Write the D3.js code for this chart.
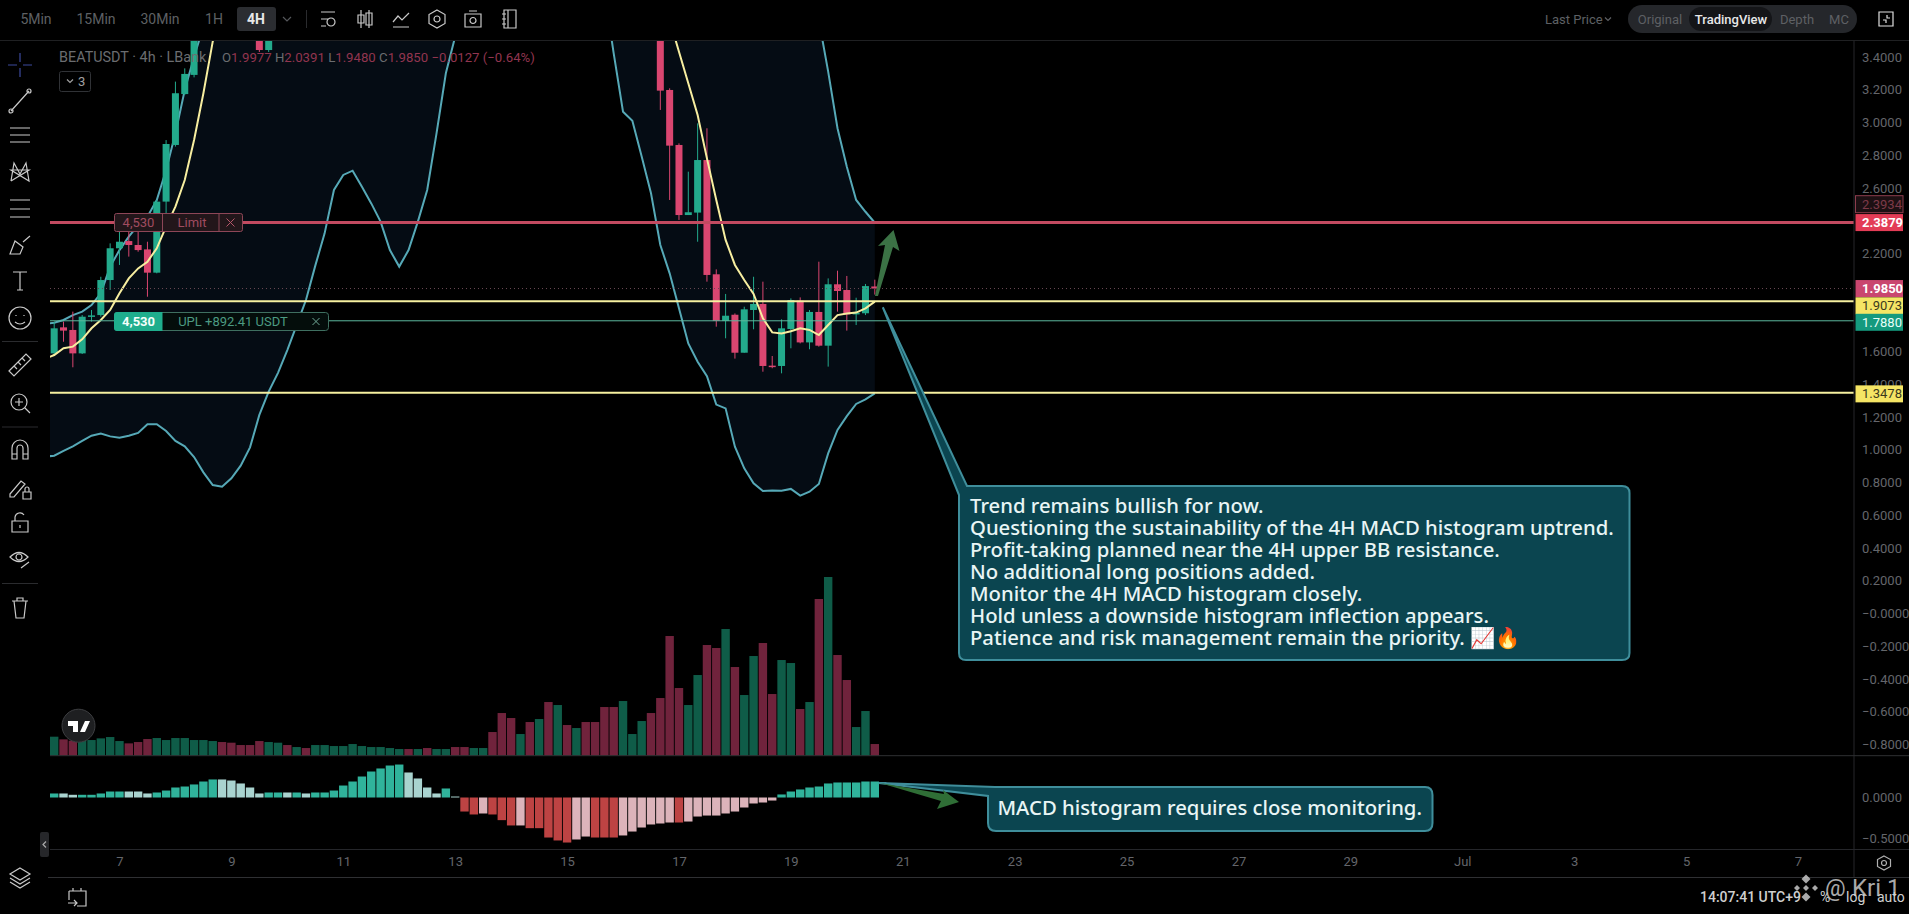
<!DOCTYPE html>
<html>
<head>
<meta charset="utf-8">
<title>BEATUSDT 4h</title>
<script src="https://cdn.jsdelivr.net/npm/d3@7"></script>
<style>
    html, body { margin: 0; padding: 0; background: #000; overflow: hidden; }
    svg { display: block; }
    text { font-family: Roboto, "Noto Sans", sans-serif; }
    .axis text { fill: #64666b; font-size: 13px; }
    .axis path, .axis line { display: none; }
    .note { font-family: "Noto Sans", "Open Sans", sans-serif; font-weight: 500; fill: #e9f5f5; }
</style>
</head>
<body>
<svg id="chart" width="1909" height="914"></svg>
<script>
// === DATA ======================================================

// 2.4, 2.0 and 1.8 sit fully behind the price tags, so they are left out
const priceTicks = [3.4, 3.2, 3.0, 2.8, 2.6, 2.2, 1.6, 1.4, 1.2, 1.0, 0.8, 0.6, 0.4, 0.2, 0, -0.2, -0.4, -0.6, -0.8];
const macdTicks = [0, -0.5];
const dayLabels = ["7", "9", "11", "13", "15", "17", "19", "21", "23", "25", "27", "29", "Jul", "3", "5", "7"];
const dayBars = [7, 19, 31, 43, 55, 67, 79, 91, 103, 115, 127, 139, 151, 163, 175, 187];

// candles that are inside the visible price range, the rest is off the top
const candleBars = [0, 1, 2, 3, 4, 5, 6, 7, 8, 9, 10, 11, 12, 13, 14, 15, 22, 23, 65, 66, 67, 68, 69, 70, 71, 72, 73, 74, 75, 76, 77, 78, 79, 80, 81, 82, 83, 84, 85, 86, 87, 88];
const opens = [1.589, 1.748, 1.732, 1.589, 1.815, 1.823, 2.037, 2.231, 2.275, 2.251, 2.224, 2.082, 2.516, 2.862, 3.173, 3.290, 3.95, 3.442, 3.95, 3.198, 2.862, 2.434, 2.449, 2.770, 2.072, 1.787, 1.825, 1.593, 1.854, 1.891, 1.514, 1.512, 1.738, 1.911, 1.656, 1.842, 1.636, 2.011, 1.976, 1.827, 1.834, 1.9977];
const closes = [1.742, 1.728, 1.589, 1.813, 1.821, 2.037, 2.231, 2.271, 2.251, 2.220, 2.082, 2.516, 2.868, 3.178, 3.296, 3.62, 3.442, 3.9, 3.194, 2.858, 2.434, 2.451, 2.770, 2.068, 1.787, 1.819, 1.593, 1.858, 1.891, 1.512, 1.510, 1.742, 1.915, 1.656, 1.842, 1.636, 2.011, 1.970, 1.827, 1.838, 2.000, 1.985];
const highs = [1.783, 1.783, 1.844, 1.823, 1.854, 2.057, 2.261, 2.333, 2.333, 2.333, 2.271, 2.526, 2.892, 3.249, 3.330, 3.70, 4.0, 4.0, 4.0, 3.208, 2.872, 2.699, 2.994, 2.964, 2.102, 1.952, 1.833, 1.874, 2.057, 2.027, 1.573, 1.797, 1.925, 1.931, 1.854, 2.149, 2.047, 2.094, 2.062, 1.929, 2.013, 2.0391];
const lows = [1.579, 1.660, 1.504, 1.585, 1.783, 1.813, 1.976, 2.129, 2.180, 2.210, 1.935, 2.078, 2.444, 2.852, 3.167, 3.275, 3.43, 3.43, 3.076, 2.526, 2.404, 2.434, 2.271, 2.027, 1.752, 1.681, 1.557, 1.593, 1.736, 1.477, 1.498, 1.467, 1.620, 1.650, 1.614, 1.630, 1.508, 1.844, 1.728, 1.762, 1.823, 1.948];

// Bollinger bands, first entry is the bar before the left edge, null = above the pane
const bbUpper = [1.768, 1.776, 1.793, 1.823, 1.844, 1.884, 1.956, 2.119, 2.220, 2.302, 2.373, 2.424, 2.526, 2.709, 2.933, 3.198, 3.401, 3.585, 3.85,
    ...Array(64).fill(null),
    3.625, 3.310, 2.964, 2.729, 2.526, 2.454, 2.387];
const bbMiddle = [1.555, 1.579, 1.620, 1.630, 1.675, 1.742, 1.793, 1.854, 1.956, 2.047, 2.108, 2.149, 2.231, 2.363, 2.485, 2.648, 2.892, 3.178, 3.493, 3.75,
    ...Array(47).fill(null),
    3.625, 3.432, 3.239, 3.045, 2.780, 2.526, 2.282, 2.129, 2.037, 1.952, 1.803, 1.717, 1.711, 1.724, 1.742, 1.732, 1.701, 1.762, 1.823, 1.833, 1.838, 1.864, 1.905];
const bbLower = [0.958, 0.964, 0.993, 1.021, 1.054, 1.086, 1.099, 1.082, 1.074, 1.086, 1.103,
    1.156, 1.156, 1.115, 1.054, 1.021, 0.956, 0.862, 0.785, 0.775, 0.826,
    0.903, 1.015, 1.213, 1.355, 1.470, 1.609, 1.762, 1.915, 2.125, 2.322,
    2.587, 2.679, 2.705, 2.607, 2.505, 2.394, 2.220, 2.119, 2.220, 2.394,
    2.587, 2.933, 3.300, 3.524, 3.78,
    ...Array(14).fill(null),
    3.80, 3.422, 3.065, 3.010, 2.791, 2.567, 2.251, 2.078, 1.864, 1.650, 1.538,
    1.450, 1.276, 1.253, 1.019, 0.887, 0.795, 0.748, 0.752, 0.750, 0.761,
    0.720, 0.744, 0.791, 0.978, 1.121, 1.206, 1.280, 1.308, 1.345];

const volume = [57, 49, 45, 47, 47, 52, 56, 44, 37, 41,
    50, 53, 47, 53, 53, 47, 47, 44, 41, 39,
    32, 32, 44, 41, 39, 32, 26, 23, 32, 32,
    29, 29, 35, 29, 26, 26, 23, 20, 20, 20,
    23, 20, 20, 26, 26, 23, 23, 71, 128, 113,
    65, 101, 110, 161, 152, 92, 83, 101, 101, 146,
    146, 164, 65, 104, 128, 173, 359, 203, 152, 242,
    332, 323, 380, 266, 182, 299, 338, 185, 287, 278,
    140, 161, 470, 536, 302, 227, 86, 134, 35];
const volumeSide = ("g r r g g g g g r r " + "r g g g g g g g r r " + "r r r g g r g r g g " + "g g g g g g g g r g " + "r g g r r g g r r r " +
    "g r g r g r g r r r " + "r g g g r r r r g g " + "r r g r g g r r g g " + "r g r g r r g g r").split(" ");

const macdHist = [0.049, 0.049, 0.033, 0.033, 0.033, 0.049, 0.073, 0.073, 0.073, 0.073,
    0.049, 0.061, 0.085, 0.122, 0.134, 0.159, 0.195, 0.220, 0.220, 0.207,
    0.171, 0.122, 0.049, 0.061, 0.061, 0.061, 0.061, 0.049, 0.061, 0.061,
    0.085, 0.146, 0.195, 0.256, 0.317, 0.354, 0.390, 0.402, 0.305, 0.232,
    0.122, 0.049, 0.110, 0.012, -0.171, -0.207, -0.195, -0.207, -0.276, -0.341,
    -0.341, -0.374, -0.374, -0.488, -0.524, -0.549, -0.512, -0.476, -0.488, -0.488,
    -0.488, -0.463, -0.415, -0.366, -0.329, -0.317, -0.305, -0.305, -0.293, -0.232,
    -0.220, -0.220, -0.195, -0.171, -0.122, -0.073, -0.061, -0.037, 0.037, 0.073,
    0.098, 0.122, 0.134, 0.171, 0.183, 0.183, 0.183, 0.195, 0.195];
const macdShade = ("g l l g g g g g l l " + "l g g g g g g g l l " + "l l l g g l g l g g " + "g g g g g g g g l l " + "l l g l r r p r r r " +
    "p r r r r r p p r r " + "r p p p p p p r p p " + "p p p p p p p p g g " + "g g g g g g g g g").split(" ");

const priceLines = [
    { value: 2.3879, color: "#c24a60", width: 3 },
    { value: 1.9073, color: "#f6f0a0", width: 2 },
    { value: 1.788, color: "#5cb89e", width: 1 },
    { value: 1.3478, color: "#f6f0a0", width: 2 }
];
const priceTags = [
    { value: 2.3934, dy: -17.5, text: "2.3934", fill: "#1d1013", stroke: "#8d3d4d", ink: "#7d3a48" },
    { value: 2.3879, dy: 0, text: "2.3879", fill: "#e33c56", stroke: "none", ink: "#fff" },
    { value: 1.985, dy: 0, text: "1.9850", fill: "#c9466f", stroke: "none", ink: "#fff" },
    { value: 1.9073, dy: 4.5, text: "1.9073", fill: "#f5e565", stroke: "none", ink: "#3b3a1c" },
    { value: 1.788, dy: 1.5, text: "1.7880", fill: "#159a7e", stroke: "none", ink: "#e8fff8" },
    { value: 1.3478, dy: 1, text: "1.3478", fill: "#f5e565", stroke: "none", ink: "#3b3a1c" }
];
const noteLines = [
    "Trend remains bullish for now.",
    "Questioning the sustainability of the 4H MACD histogram uptrend.",
    "Profit-taking planned near the 4H upper BB resistance.",
    "No additional long positions added.",
    "Monitor the 4H MACD histogram closely.",
    "Hold unless a downside histogram inflection appears.",
    "Patience and risk management remain the priority. 📈🔥"
];
const intervals = [["5Min", 36], ["15Min", 96], ["30Min", 160], ["1H", 214], ["4H", 256]];

// === SCALES ====================================================

const svg = d3.select("#chart");
const plotLeft = 50, plotRight = 1854, plotTop = 40.5, volumeBase = 755.7;

const x = d3.scaleLinear().domain([0, 88]).range([54.2, 874.8]);
const y = d3.scaleLinear().domain([0, 3.4]).range([613.5, 56.9]);
const yVolume = d3.scaleLinear().domain([0, 536]).range([volumeBase, 577]);
const yMacd = d3.scaleLinear().domain([0, -0.5]).range([797.5, 838.5]);

const GREEN = "#23aa8c", RED = "#da4670";
const VOL_COLORS = { g: "#0f5c48", r: "#70233c" };
const MACD_COLORS = { g: "#30b39b", l: "#a9d3cf", r: "#bd4343", p: "#dcb3ba" };

svg.append("rect").attr("width", 1909).attr("height", 914).attr("fill", "#000");
svg.append("clipPath").attr("id", "price-clip").append("rect")
    .attr("x", plotLeft).attr("y", plotTop)
    .attr("width", plotRight - plotLeft).attr("height", volumeBase - plotTop);
const pane = svg.append("g").attr("clip-path", "url(#price-clip)");

// === PRICE PANE ================================================

// band index is one behind the bar number because of the extra first entry
const bandRows = bbLower.map((low, i) => ({ bar: i - 1, low: low, up: bbUpper[i] }));
pane.append("path")
    .attr("fill", "#050c14")
    .attr("d", d3.area()
        .defined(d => d.low !== null)
        .x(d => x(d.bar))
        .y0(d => y(d.low))
        .y1(d => d.up !== null ? y(d.up) : plotTop)(bandRows));

pane.append("g").selectAll("rect")
    .data(volume)
    .enter()
    .append("rect")
    .attr("x", (d, i) => x(i) - 4.2)
    .attr("width", 8.4)
    .attr("y", d => yVolume(d))
    .attr("height", d => yVolume(0) - yVolume(d))
    .attr("fill", (d, i) => VOL_COLORS[volumeSide[i]]);

const bandLine = d3.line().defined(d => d !== null).x((d, i) => x(i - 1)).y(d => y(d));
[bbUpper, bbLower].forEach(series => {
    pane.append("path")
        .attr("d", bandLine(series))
        .attr("fill", "none")
        .attr("stroke", "#56a9b7")
        .attr("stroke-width", 2);
});

const candles = candleBars.map((bar, i) => ({ bar: bar, o: opens[i], h: highs[i], l: lows[i], c: closes[i] }));
const candle = pane.append("g").selectAll("g").data(candles).enter().append("g");
candle.append("line")
    .attr("x1", d => x(d.bar)).attr("x2", d => x(d.bar))
    .attr("y1", d => y(d.h)).attr("y2", d => y(d.l))
    .attr("stroke", d => d.c >= d.o ? GREEN : RED)
    .attr("stroke-width", 1);
candle.append("rect")
    .attr("x", d => x(d.bar) - 3.5)
    .attr("width", 7)
    .attr("y", d => y(Math.max(d.o, d.c)))
    .attr("height", d => Math.max(1.5, Math.abs(y(d.o) - y(d.c))))
    .attr("fill", d => d.c >= d.o ? GREEN : RED);

pane.append("path")
    .attr("d", bandLine(bbMiddle))
    .attr("fill", "none")
    .attr("stroke", "#f7eea0")
    .attr("stroke-width", 2);

// last price dotted line and the drawn levels
pane.append("line")
    .attr("x1", plotLeft).attr("x2", plotRight)
    .attr("y1", y(1.985)).attr("y2", y(1.985))
    .attr("stroke", "#6a4a55").attr("stroke-dasharray", "1 3");
pane.selectAll(".level")
    .data(priceLines)
    .enter()
    .append("line")
    .attr("class", "level")
    .attr("x1", plotLeft).attr("x2", plotRight)
    .attr("y1", d => y(d.value)).attr("y2", d => y(d.value))
    .attr("stroke", d => d.color)
    .attr("stroke-width", d => d.width);

// === MACD PANE =================================================

svg.append("g").selectAll("rect")
    .data(macdHist)
    .enter()
    .append("rect")
    .attr("x", (d, i) => x(i) - 4.2)
    .attr("width", 8.4)
    .attr("y", d => Math.min(yMacd(0), yMacd(d)))
    .attr("height", d => Math.abs(yMacd(d) - yMacd(0)))
    .attr("fill", (d, i) => MACD_COLORS[macdShade[i]]);

// === AXES ======================================================

svg.append("g")
    .attr("class", "axis")
    .attr("transform", `translate(${plotRight},0)`)
    .call(d3.axisRight(y).tickValues(priceTicks).tickSize(0).tickPadding(8)
        .tickFormat(d => d === 0 ? "−0.0000" : d3.format(".4f")(d).replace("-", "−")));
svg.append("g")
    .attr("class", "axis")
    .attr("transform", `translate(${plotRight},0)`)
    .call(d3.axisRight(yMacd).tickValues(macdTicks).tickSize(0).tickPadding(8)
        .tickFormat(d => d3.format(".4f")(d).replace("-", "−")));
svg.append("g")
    .attr("class", "axis")
    .attr("transform", "translate(0,849)")
    .call(d3.axisBottom(x).tickValues(dayBars).tickSize(0).tickPadding(8)
        .tickFormat((d, i) => dayLabels[i]));

const rule = (x1, y1, x2, y2, color) => svg.append("line")
    .attr("x1", x1).attr("y1", y1).attr("x2", x2).attr("y2", y2).attr("stroke", color);
rule(0, 40.5, 1909, 40.5, "#1f2022");
rule(plotRight, 40.5, plotRight, 877, "#26272a");
rule(plotLeft, volumeBase, 1909, volumeBase, "#2f3033");
rule(plotLeft, 849.5, 1909, 849.5, "#25262a");
rule(48, 877.5, 1909, 877.5, "#2f3033");

// === PRICE TAGS ================================================

const tag = svg.append("g").selectAll("g").data(priceTags).enter().append("g")
    .attr("transform", d => `translate(1855.5,${y(d.value) + d.dy})`);
tag.append("rect")
    .attr("y", -8.5).attr("width", 47.5).attr("height", 17)
    .attr("fill", d => d.fill).attr("stroke", d => d.stroke);
tag.append("text")
    .attr("x", 6.5).attr("y", 4.6)
    .attr("font-size", 13)
    .attr("font-weight", d => d.ink === "#fff" ? 700 : 400)
    .attr("fill", d => d.ink)
    .text(d => d.text);

// === ORDER LABELS ==============================================

function txt(parent, px, py, str, size, color, anchor, weight) {
    return parent.append("text")
        .attr("x", px).attr("y", py)
        .attr("font-size", size).attr("fill", color)
        .attr("text-anchor", anchor || "start")
        .attr("font-weight", weight || 400)
        .text(str);
}

const limitBox = svg.append("g");
limitBox.append("rect").attr("x", 114.5).attr("y", 213.5).attr("width", 128).attr("height", 18).attr("rx", 2)
    .attr("fill", "#22161a").attr("stroke", "#8d4657");
limitBox.append("line").attr("x1", 162.5).attr("x2", 162.5).attr("y1", 214).attr("y2", 231).attr("stroke", "#8d4657");
limitBox.append("line").attr("x1", 219).attr("x2", 219).attr("y1", 214).attr("y2", 231).attr("stroke", "#8d4657");
txt(limitBox, 138.5, 227, "4,530", 13, "#a14c60", "middle");
txt(limitBox, 192, 227, "Limit", 13, "#a14c60", "middle");
limitBox.append("path").attr("d", "M226.5,218.5 l8,8 M234.5,218.5 l-8,8").attr("stroke", "#b5566a").attr("fill", "none");

const uplBox = svg.append("g");
uplBox.append("rect").attr("x", 114.5).attr("y", 312.5).attr("width", 214).attr("height", 18).attr("rx", 3)
    .attr("fill", "#040d0b").attr("stroke", "#3f6f60");
uplBox.append("path").attr("d", "M162.5,312 H117 Q114,312 114,315 V328 Q114,331 117,331 H162.5 Z").attr("fill", "#1fae8d");
txt(uplBox, 138.5, 326, "4,530", 13, "#f3fffb", "middle", 700);
txt(uplBox, 233, 326, "UPL +892.41 USDT", 13, "#4c9a82", "middle");
uplBox.append("path").attr("d", "M312.5,318 l7,7 M319.5,318 l-7,7").attr("stroke", "#6fa896").attr("fill", "none");

// === CALLOUTS ==================================================

const CALLOUT_FILL = "#0b4550", CALLOUT_EDGE = "#3f8e9b";
const tipX = x(88) + 8;

svg.append("path")
    .attr("d", `M${tipX},${y(1.9073) + 6} L967,486 H1622 Q1629.5,486 1629.5,493 V653 Q1629.5,660 1622,660 H966 Q959,660 959,653 V495 Z`)
    .attr("fill", CALLOUT_FILL).attr("stroke", CALLOUT_EDGE).attr("stroke-width", 2);
svg.append("path")
    .attr("d", `M${x(88) + 4},783 L995,787 H1425 Q1432.5,787 1432.5,795 V823 Q1432.5,831 1425,831 H996 Q988,831 988,823 V796 Z`)
    .attr("fill", CALLOUT_FILL).attr("stroke", CALLOUT_EDGE).attr("stroke-width", 2);

svg.append("g").selectAll("text").data(noteLines).enter().append("text")
    .attr("class", "note")
    .attr("x", 970)
    .attr("y", (d, i) => 512.7 + i * 22.05)
    .attr("font-size", 20.3)
    .text(d => d);
svg.append("text").attr("class", "note").attr("x", 997.5).attr("y", 815).attr("font-size", 20.3)
    .text("MACD histogram requires close monitoring.");

// green arrows
svg.append("path")
    .attr("d", "M875,296 L885,245 L878,246 L893.5,230 L899.5,251 L893,247 L878,296 Z")
    .attr("fill", "#3b7245");
svg.append("path")
    .attr("d", "M880,783 L944,794 L943,790 L959,802 L937,809 L941,801 Z")
    .attr("fill", "#2f6e36");

// === TOP BAR ===================================================

intervals.forEach(([label, cx]) => {
    if (label === "4H") {
        svg.append("rect").attr("x", 237).attr("y", 7).attr("width", 39).attr("height", 24).attr("rx", 3).attr("fill", "#2b2d31");
        txt(svg, cx, 24, label, 14, "#e8e8e8", "middle", 700);
    } else {
        txt(svg, cx, 24, label, 14, "#5e6064", "middle");
    }
});

function icon(px, py, d, color) {
    return svg.append("path")
        .attr("transform", `translate(${px},${py})`)
        .attr("d", d)
        .attr("fill", "none")
        .attr("stroke", color || "#c9c9c9")
        .attr("stroke-width", 1.2);
}

icon(287, 19, "M-4,-2 L0,2 L4,-2", "#55575b");
rule(306.5, 10, 306.5, 28, "#2a2b2e");
icon(328, 19, "M-7,-7 H7 M-7,0 H0 M-7,7 H-2 M7,3 a4,4 0 1,1 -8,0 a4,4 0 1,1 8,0");
icon(365, 19, "M-4,-9 V9 M4,-9 V9 M-7,-4 H-1 V4 H-7 Z M1,-6 H7 V6 H1 Z");
icon(401, 19, "M-8,8 H8 M-8,3 L-3,-3 L1,1 L8,-6");
icon(437, 19, "M0,-9 L8,-4.5 V4.5 L0,9 L-8,4.5 V-4.5 Z M3,0 a3,3 0 1,1 -6,0 a3,3 0 1,1 6,0");
icon(473, 19, "M-8,-5 H8 V8 H-8 Z M-4,-8 H4 M3,1.5 a3,3 0 1,1 -6,0 a3,3 0 1,1 6,0");
icon(509, 19, "M-5,-9 H7 V9 H-5 Z M-1,-9 V9 M-7,-5 H-3 M-7,0 H-3 M-7,5 H-3");

txt(svg, 1545, 24, "Last Price", 13, "#5e6064");
icon(1608, 19, "M-3,-1.5 L0,1.5 L3,-1.5", "#5e6064");
svg.append("rect").attr("x", 1628).attr("y", 5).attr("width", 229).attr("height", 28).attr("rx", 14).attr("fill", "#25272b");
svg.append("rect").attr("x", 1689).attr("y", 7).attr("width", 83).attr("height", 24).attr("rx", 12).attr("fill", "#141518");
txt(svg, 1660, 24, "Original", 13, "#5e6064", "middle");
txt(svg, 1731, 24, "TradingView", 13, "#e8e8e8", "middle", 500);
txt(svg, 1797, 24, "Depth", 13, "#5e6064", "middle");
txt(svg, 1839, 24, "MC", 13, "#5e6064", "middle");
icon(1886, 19, "M-7,-7 H7 V7 H-7 Z M-3,1 H0 V4 M1,-4 V-1 H4", "#e0e0e0");

// === LEGEND ====================================================

txt(svg, 59, 62, "BEATUSDT · 4h · LBank", 14.4, "#6b6d70");
const ohlc = svg.append("text").attr("x", 222).attr("y", 62).attr("font-size", 13.2).attr("fill", "#92354f");
[["O", "1.9977"], ["H", "2.0391"], ["L", "1.9480"], ["C", "1.9850"]].forEach(([k, v]) => {
    ohlc.append("tspan").attr("fill", "#6b6d70").text(k);
    ohlc.append("tspan").text(v + " ");
});
ohlc.append("tspan").text("−0.0127 (−0.64%)");

svg.append("rect").attr("x", 59.5).attr("y", 71.5).attr("width", 31).attr("height", 20).attr("rx", 2)
    .attr("fill", "none").attr("stroke", "#303236");
icon(70, 81, "M-3,-1.5 L0,1.5 L3,-1.5", "#a0a0a0");
txt(svg, 78, 86, "3", 13, "#a0a0a0");

// === LEFT TOOLBAR ==============================================

icon(20, 65, "M-12,0 H-3 M3,0 H12 M0,-12 V-3 M0,3 V12", "#3d4a9e");
icon(20, 101, "M-9,10 L9,-10 M-9,10 m-2,0 a2,2 0 1,0 4,0 a2,2 0 1,0 -4,0 M9,-10 m-2,0 a2,2 0 1,0 4,0 a2,2 0 1,0 -4,0");
icon(20, 135, "M-10,-7 H10 M-10,0 H10 M-10,7 H10");
icon(20, 172, "M-9,9 L-6,-9 L0,2 L6,-9 L9,9 L-9,-2 H9 L-9,9");
icon(20, 209, "M-10,-9 H10 M-10,0 H10 M-10,8 H10");
icon(20, 245, "M-10,9 L-5,-4 L3,2 L0,9 Z M3,-3 L10,-9");
icon(20, 281, "M-7,-9 H7 M0,-9 V9 M-3,9 H3");
icon(20, 318, "M11,0 a11,11 0 1,1 -22,0 a11,11 0 1,1 22,0 M-4,-3 V-2 M4,-3 V-2 M-5,4 Q0,8 5,4");
rule(2, 341.5, 38, 341.5, "#2a2b2e");
icon(20, 365, "M-11,6 L6,-11 L11,-6 L-6,11 Z M-6,1 L-3,4 M-2,-3 L1,0 M2,-7 L5,-4");
icon(19, 402, "M8,0 a8,8 0 1,1 -16,0 a8,8 0 1,1 16,0 M6,6 L11,11 M-4,0 H4 M0,-4 V4");
rule(2, 427, 38, 427, "#2a2b2e");
icon(20, 450, "M-8,9 V-2 a8,8 0 0,1 16,0 V9 H3 V-2 a3,3 0 0,0 -6,0 V9 Z M-8,4 H-3 M3,4 H8");
icon(19, 487, "M-9,7 L2,-6 L6,-3 L-5,10 L-9,10 Z M4,5 H12 V12 H4 Z M6,5 V2 a2,2 0 0,1 4,0 V5");
icon(20, 522, "M-8,-1 H8 V10 H-8 Z M-5,-1 V-5 a5,5 0 0,1 9,-2 M0,3 V6");
icon(19, 557, "M-9,0 Q0,-9 9,0 Q0,9 -9,0 Z M3,0 a3,3 0 1,1 -6,0 a3,3 0 1,1 6,0 M2,11 L10,5");
rule(2, 583.5, 38, 583.5, "#2a2b2e");
icon(20, 608, "M-8,-7 H8 M-6,-7 L-4,10 H4 L6,-7 M-3,-7 V-10 H3 V-7");
icon(20, 878, "M0,-10 L10,-4 L0,2 L-10,-4 Z M-10,0 L0,6 L10,0 M-10,4 L0,10 L10,4");
icon(77, 897, "M-8,-6 H9 V9 H0 M-8,-6 V3 M-4,-9 V-6 M4,-9 V-6 M-9,6 H0 M-3,3 L0,6 L-3,9");

svg.append("rect").attr("x", 40).attr("y", 832).attr("width", 9).attr("height", 25).attr("rx", 2).attr("fill", "#26272a");
icon(44.5, 844.5, "M1.5,-3 L-1.5,0 L1.5,3", "#aaa");

// TradingView badge
svg.append("circle").attr("cx", 78.5).attr("cy", 725.7).attr("r", 16.5).attr("fill", "#1e1f21").attr("stroke", "#3d3e41");
svg.append("path")
    .attr("d", "M68,721 H78 V732 H73 V726 H68 Z M85,721 H90 L85,732 H80 Z")
    .attr("fill", "#fff");

// === BOTTOM RIGHT ==============================================

icon(1884, 863, "M0,-7 L6.5,-3.5 V3.5 L0,7 L-6.5,3.5 V-3.5 Z M2.5,0 a2.5,2.5 0 1,1 -5,0 a2.5,2.5 0 1,1 5,0", "#b0b0b0");
txt(svg, 1700, 902, "14:07:41 UTC+9", 14, "#cfcfcf", "start", 500);
txt(svg, 1820, 902, "%", 14, "#cfcfcf");
txt(svg, 1846, 902, "log", 14, "#cfcfcf");
txt(svg, 1877, 902, "auto", 14, "#cfcfcf");

// watermark
const mark = svg.append("g").attr("fill", "#d4d4d4").attr("opacity", 0.8);
[[0, -9, 4.5], [-9, 0, 3], [9, 0, 3], [0, 9, 4.5], [0, 0, 3]].forEach(([dx, dy, r]) => {
    mark.append("path")
        .attr("transform", `translate(${1806 + dx},${888 + dy})`)
        .attr("d", `M0,${-r} L${r},0 L0,${r} L${-r},0 Z`);
});
txt(mark, 1825, 896, "@", 23, "#d4d4d4");
txt(mark, 1852, 896, "Kri 1", 24, "#d4d4d4");
</script>
</body>
</html>
